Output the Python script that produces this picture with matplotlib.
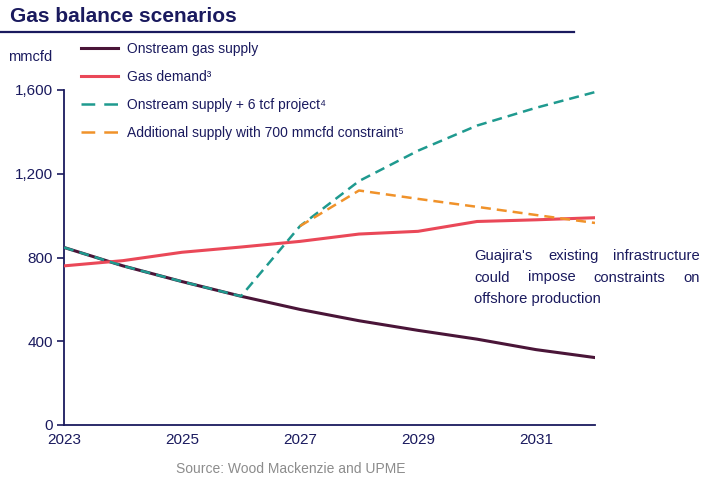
import numpy as np
import matplotlib.pyplot as plt
from matplotlib.lines import Line2D

plt.rcParams['font.family'] = ['Liberation Sans', 'DejaVu Sans']

NAVY = '#1a1a5e'

years = np.arange(2023, 2033)
onstream = [848, 760, 685, 615, 552, 498, 452, 410, 360, 322]
demand = [760, 785, 825, 850, 877, 912, 925, 972, 980, 990]
years_6tcf = np.arange(2023, 2033)
onstream_6tcf = [848, 760, 685, 615, 950, 1165, 1310, 1430, 1515, 1590]
years_700 = np.arange(2027, 2033)
constrained = [950, 1120, 1080, 1042, 1003, 965]

labels = ['Onstream gas supply', 'Gas demand\u00b3',
          'Onstream supply + 6 tcf project\u2074',
          'Additional supply with 700 mmcfd constraint\u2075']
colors = ['#4a1538', '#ea4858', '#1f9a8f', '#f0922a']

fig = plt.figure(figsize=(7.1, 5.0), dpi=100, facecolor='white')
ax = fig.add_axes([64 / 710, 0.15, 531 / 710, 0.67])

ax.plot(years, onstream, color=colors[0], lw=2.2, zorder=3)
ax.plot(years, demand, color=colors[1], lw=2.2, zorder=3)
ax.plot(years_6tcf, onstream_6tcf, color=colors[2], lw=1.8, dashes=(4, 2.4), zorder=4)
ax.plot(years_700, constrained, color=colors[3], lw=1.8, dashes=(4, 2.4), zorder=5)

ax.set_xlim(2023, 2032)
ax.set_ylim(0, 1600)
ax.set_xticks([2023, 2025, 2027, 2029, 2031])
ax.set_yticks([0, 400, 800, 1200, 1600])
ax.set_yticklabels(['0', '400', '800', '1,200', '1,600'])
for s in ['top', 'right']:
    ax.spines[s].set_visible(False)
for s in ['left', 'bottom']:
    ax.spines[s].set_color(NAVY)
    ax.spines[s].set_linewidth(1.3)
ax.tick_params(axis='y', colors=NAVY, labelsize=11, length=5, width=1.2, pad=3)
ax.tick_params(axis='x', colors=NAVY, labelsize=11, length=0, pad=6)

handles = [Line2D([], [], color=colors[0], lw=2.2),
           Line2D([], [], color=colors[1], lw=2.2),
           Line2D([], [], color=colors[2], lw=1.8, dashes=(5.5, 3.6)),
           Line2D([], [], color=colors[3], lw=1.8, dashes=(5.5, 3.6))]
fig.legend(handles=handles, labels=labels, loc='upper left',
           bbox_to_anchor=(74 / 710, 1 - 35 / 500),
           frameon=False, fontsize=10, handlelength=2.7, labelspacing=1.0,
           handletextpad=0.6, borderpad=0, labelcolor=NAVY)

fig.text(10 / 710, 1 - 17 / 500, 'Gas balance scenarios', fontsize=15, fontweight='bold',
         color=NAVY, va='center', ha='left')
fig.add_artist(plt.Line2D([0, 574 / 710], [1 - 32 / 500, 1 - 32 / 500], color=NAVY, lw=1.6))
fig.text(8 / 710, 1 - 57 / 500, 'mmcfd', fontsize=10.5, color=NAVY, va='center', ha='left')

# justified note
note_lines = [
    [('Guajira\'s', 474, 'left'), ('existing', 548, 'left'), ('infrastructure', 700, 'right')],
    [('could', 474, 'left'), ('impose', 528, 'left'), ('constraints', 593, 'left'), ('on', 700, 'right')],
    [('offshore production', 474, 'left')],
]
for i, words in enumerate(note_lines):
    y = 1 - (256 + i * 21.5) / 500
    for w, x, ha in words:
        fig.text(x / 710, y, w, fontsize=10.6, color=NAVY, ha=ha, va='center')

fig.text(291 / 710, 1 - 469 / 500, 'Source: Wood Mackenzie and UPME', fontsize=10,
         color='#8c8c8c', ha='center', va='center')

fig.savefig('out.png', dpi=100, facecolor='white')
